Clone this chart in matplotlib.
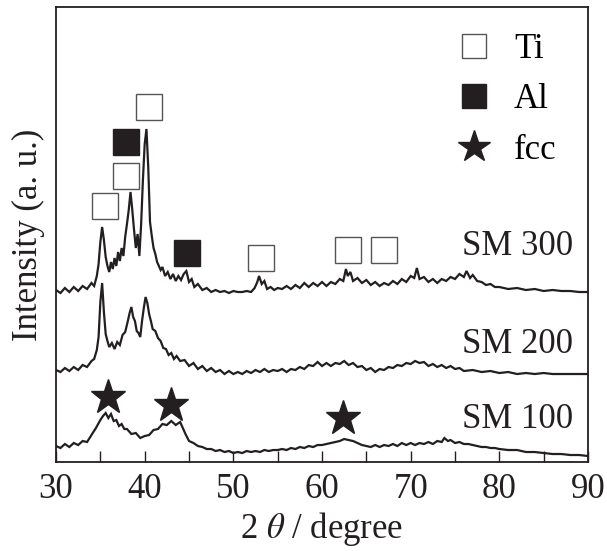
import matplotlib
matplotlib.use('Agg')
import matplotlib.pyplot as plt
from matplotlib.lines import Line2D

plt.rcParams['font.family'] = ['Liberation Serif', 'DejaVu Serif']
plt.rcParams['mathtext.fontset'] = 'stix'

INK = '#231f20'

# ---------------------------------------------------------------------------
# XRD patterns (stacked, arbitrary intensity units incl. offset)
# ---------------------------------------------------------------------------
tth_300 = [30, 30.5, 31, 31.5, 32, 32.5, 33, 33.5, 34, 34.3, 34.6, 34.8, 35.0, 35.2, 35.4, 35.6,
           35.8, 36.0, 36.2, 36.4, 36.6, 36.8, 37.0, 37.2, 37.4, 37.6, 37.8, 38.0, 38.2, 38.4,
           38.6, 38.8, 39.0, 39.2, 39.4, 39.6, 39.8, 40.0, 40.2, 40.4, 40.6, 40.8, 41.0, 41.2,
           41.4, 41.6, 41.8, 42.0, 42.3, 42.6, 42.9, 43.2, 43.5, 43.8, 44.1, 44.4, 44.7, 45.0,
           45.3, 45.6, 46.0, 46.5, 47, 47.5, 48, 48.5, 49, 49.5, 50, 50.5, 51, 51.5, 52, 52.4,
           52.7, 52.9, 53.2, 53.5, 53.8, 54.2, 54.6, 55, 55.5, 56, 56.5, 57, 57.5, 58, 58.5, 59,
           59.5, 60, 60.5, 61, 61.5, 62, 62.4, 62.7, 62.9, 63.2, 63.5, 64, 64.5, 65, 65.5, 66,
           66.5, 67, 67.5, 68, 68.5, 69, 69.5, 70, 70.4, 70.7, 71, 71.5, 72, 72.5, 73, 73.5, 74,
           74.5, 75, 75.5, 76, 76.3, 76.7, 77, 77.5, 78, 78.5, 79, 79.5, 80, 81, 82, 83, 84, 85,
           86, 87, 88, 89, 90]
int_300 = [172, 169, 174, 170, 175, 171, 176, 173, 179, 176, 186, 198, 220, 235, 222, 205,
           196, 190, 200, 193, 204, 196, 210, 201, 214, 206, 225, 238, 252, 270,
           252, 232, 214, 228, 206, 238, 282, 318, 333, 295, 240, 226, 214, 208,
           200, 196, 192, 195, 186, 190, 183, 188, 181, 186, 182, 188, 191, 180,
           183, 175, 178, 172, 174, 170, 172, 170, 171, 169, 171, 170, 170, 171, 170, 174,
           180, 186, 178, 181, 173, 175, 172, 174, 173, 176, 173, 177, 174, 179, 175, 179,
           176, 180, 176, 180, 178, 183, 181, 193, 186, 190, 181, 184, 179, 182, 177, 180,
           176, 179, 177, 181, 178, 183, 180, 186, 184, 194, 183, 185, 180, 183, 179, 183, 181,
           185, 183, 188, 185, 191, 184, 187, 181, 180, 177, 178, 175, 175, 173, 174, 172, 173, 171,
           172, 171, 171, 170, 170]

tth_200 = [30, 30.5, 31, 31.5, 32, 32.5, 33, 33.5, 34, 34.3, 34.6, 34.8, 35.0, 35.2, 35.4, 35.6,
           35.8, 36.0, 36.3, 36.6, 36.9, 37.2, 37.5, 37.8, 38.1, 38.3, 38.5, 38.7, 38.9, 39.1,
           39.3, 39.5, 39.7, 39.9, 40.1, 40.3, 40.5, 40.7, 40.9, 41.2, 41.5, 41.8, 42.1, 42.4,
           42.7, 43.0, 43.3, 43.6, 44.0, 44.5, 45, 45.5, 46, 46.5, 47, 47.5, 48, 48.5, 49, 49.5,
           50, 50.5, 51, 51.5, 52, 52.5, 53, 53.5, 54, 54.5, 55, 55.5, 56, 56.5, 57, 57.5, 58,
           58.5, 59, 59.5, 60, 60.5, 61, 61.5, 62, 62.5, 63, 63.5, 64, 64.5, 65, 65.5, 66, 66.5,
           67, 67.5, 68, 68.5, 69, 69.5, 70, 70.5, 71, 71.5, 72, 72.5, 73, 73.5, 74, 74.5, 75,
           75.5, 76, 77, 78, 79, 80, 81, 82, 83, 84, 85, 86, 87, 88, 89, 90]
int_200 = [92, 90, 94, 91, 95, 92, 97, 95, 101, 103, 112, 125, 160, 179, 150, 128,
           121, 115, 119, 113, 120, 117, 127, 130, 141, 149, 155, 145, 141, 131,
           129, 125, 141, 154, 165, 159, 148, 141, 133, 131, 124, 121, 114, 113,
           107, 109, 103, 106, 101, 102, 96, 99, 93, 96, 91, 94, 90, 92, 88, 91,
           88, 90, 88, 91, 89, 92, 90, 93, 90, 92, 91, 93, 90, 93, 92, 95, 93,
           97, 96, 100, 96, 99, 96, 99, 98, 101, 97, 99, 95, 96, 92, 94, 90, 93,
           92, 95, 94, 97, 96, 99, 98, 101, 99, 100, 96, 98, 95, 97, 94, 96, 93,
           94, 91, 92, 90, 91, 89, 90, 88, 89, 88, 89, 88, 88, 88, 88, 88]

tth_100 = [30, 30.5, 31, 31.5, 32, 32.5, 33, 33.5, 34, 34.5, 35, 35.3, 35.6, 35.9, 36.2, 36.5,
           36.8, 37.1, 37.4, 37.7, 38, 38.5, 39, 39.5, 40, 40.5, 41, 41.5, 42, 42.5, 43, 43.5,
           44, 44.3, 44.6, 45, 45.5, 46, 46.5, 47, 47.5, 48, 48.5, 49, 49.5, 50, 50.5, 51, 51.5,
           52, 52.5, 53, 53.5, 54, 54.5, 55, 55.5, 56, 56.5, 57, 57.5, 58, 58.5, 59, 59.5, 60,
           60.5, 61, 61.5, 62, 62.5, 63, 63.5, 64, 64.5, 65, 65.5, 66, 66.5, 67, 67.5, 68, 68.5,
           69, 69.5, 70, 70.5, 71, 71.5, 72, 72.5, 73, 73.5, 73.8, 74.2, 74.5, 75, 75.5, 76,
           76.5, 77, 77.5, 78, 78.5, 79, 79.5, 80, 81, 82, 83, 84, 85, 86, 87, 88, 89, 90]
int_100 = [16, 14, 18, 15, 19, 17, 21, 20, 27, 34, 42, 46, 49, 44, 48, 41,
           42, 36, 38, 33, 33, 28, 29, 24, 26, 27, 32, 33, 38, 37, 41, 37,
           40, 34, 28, 21, 19, 16, 15, 13, 13, 11, 12, 10, 11, 9, 10, 9, 11,
           10, 11, 10, 12, 11, 12, 12, 13, 12, 14, 13, 15, 14, 16, 15, 17, 17,
           18, 19, 20, 21, 23, 22, 21, 19, 17, 16, 15, 17, 15, 17, 16, 18, 16,
           19, 17, 19, 17, 19, 18, 20, 18, 21, 20, 24, 21, 22, 19, 20, 18,
           18, 17, 16, 15, 15, 14, 14, 13, 12, 12, 10, 10, 9, 8, 8, 7, 7, 6]

sample_names = ['SM 300', 'SM 200', 'SM 100']
name_y = [207, 109, 34]

# peak assignments
ti_x = [35.5, 37.9, 40.5, 53.1, 62.9, 67.0]
ti_y = [256, 286, 355, 204, 212, 212]
al_x = [37.9, 44.8]
al_y = [320, 209]
fcc_x = [35.9, 43.0, 62.4]
fcc_y = [65, 57, 44]

fig = plt.figure(figsize=(6.07, 5.51), dpi=100)
ax = fig.add_axes([0.0923, 0.1615, 0.8764, 0.8258])

for tth, inten in [(tth_300, int_300), (tth_200, int_200), (tth_100, int_100)]:
    ax.plot(tth, inten, color=INK, lw=1.6, solid_joinstyle='miter')

for name, y in zip(sample_names, name_y):
    ax.text(88.3, y, name, ha='right', va='baseline', fontsize=25, color=INK)

ax.plot(ti_x, ti_y, ls='none', marker='s', ms=19, mfc='white', mec='#555555', mew=1.0)
ax.plot(al_x, al_y, ls='none', marker='s', ms=19, mfc=INK, mec=INK, mew=1.0)
ax.plot(fcc_x, fcc_y, ls='none', marker='*', ms=26, mfc=INK, mec=INK)

handles = [Line2D([], [], ls='none', marker='s', ms=17, mfc='white', mec='#555555', mew=1.0),
           Line2D([], [], ls='none', marker='s', ms=17, mfc=INK, mec=INK),
           Line2D([], [], ls='none', marker='*', ms=24, mfc=INK, mec=INK)]
ax.legend(handles, ['Ti', 'Al', 'fcc'], loc='upper right', bbox_to_anchor=(0.99, 1.0),
          frameon=False, fontsize=25, handlelength=1.0, handletextpad=0.65,
          labelspacing=0.5, borderaxespad=0.35)

ax.set_xlim(30, 90)
ax.set_ylim(0, 455)
ax.set_xticks(range(30, 91, 10))
ax.set_xticks(range(35, 90, 10), minor=True)
ax.set_yticks([])
ax.tick_params(axis='x', which='both', direction='in', length=8, width=1.0,
               labelsize=25, colors=INK, pad=8, top=False)
for sp in ax.spines.values():
    sp.set_linewidth(1.3)
    sp.set_color(INK)

ax.set_xlabel(r'2 $\theta$ / degree', fontsize=25, color=INK, labelpad=3)
ax.set_ylabel('Intensity (a. u.)', fontsize=25, color=INK, labelpad=8)

fig.savefig('out.png', dpi=100)
